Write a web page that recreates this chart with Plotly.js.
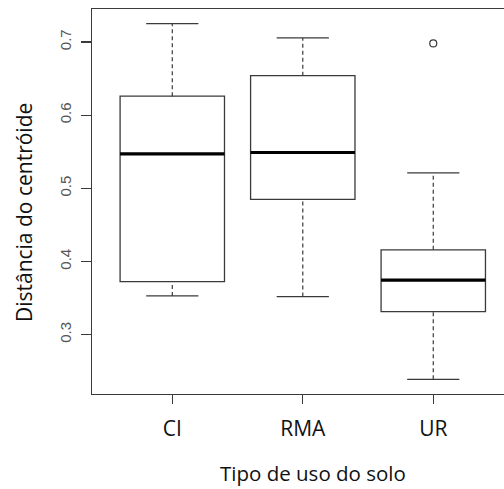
<!DOCTYPE html>
<html>
<head>
<meta charset="utf-8">
<script src="https://cdn.plot.ly/plotly-3.0.1.min.js"></script>
<style>html,body{margin:0;padding:0;background:#fff;}#chart{width:504px;height:489px;}</style>
</head>
<body>
<div id="chart"></div>
<script>
// Data
const categories = ["CI", "RMA", "UR"];
const positions = [1, 2, 3];
const lowerWhisker = [0.353, 0.352, 0.239];
const q1 = [0.3725, 0.485, 0.3315];
const median = [0.547, 0.549, 0.3745];
const q3 = [0.626, 0.654, 0.416];
const upperWhisker = [0.725, 0.7055, 0.521];
const outlierX = [3];
const outlierY = [0.698];
const yTicks = [0.3, 0.4, 0.5, 0.6, 0.7];

const BOX_W = 0.8, STAPLE_W = 0.4;
const lineCol = "#3a3a3a";

// helpers building segment arrays from data
function segs(yArr, halfW) {
  const xs = [], ys = [];
  positions.forEach((p, i) => { xs.push(p - halfW, p + halfW, null); ys.push(yArr[i], yArr[i], null); });
  return {x: xs, y: ys};
}
function whiskers() {
  const xs = [], ys = [];
  positions.forEach((p, i) => {
    xs.push(p, p, null, p, p, null);
    ys.push(q3[i], upperWhisker[i], null, lowerWhisker[i], q1[i], null);
  });
  return {x: xs, y: ys};
}

const boxTrace = {
  type: "box", x: positions, q1: q1, median: median, q3: q3,
  lowerfence: q1, upperfence: q3, width: BOX_W, whiskerwidth: 0,
  boxpoints: false, fillcolor: "#ffffff",
  line: {color: lineCol, width: 1.3}, hoverinfo: "skip", showlegend: false
};
const w = whiskers();
const whiskerTrace = {type: "scatter", mode: "lines", x: w.x, y: w.y,
  line: {color: lineCol, width: 1.2, dash: "4px,3px"}, showlegend: false, hoverinfo: "skip"};
const sU = segs(upperWhisker, STAPLE_W / 2), sL = segs(lowerWhisker, STAPLE_W / 2);
const stapleTrace = {type: "scatter", mode: "lines",
  x: sU.x.concat(sL.x), y: sU.y.concat(sL.y),
  line: {color: lineCol, width: 1.3}, showlegend: false, hoverinfo: "skip"};
const m = segs(median, BOX_W / 2);
const medianTrace = {type: "scatter", mode: "lines", x: m.x, y: m.y,
  line: {color: "#000000", width: 3.2}, showlegend: false, hoverinfo: "skip"};
const outlierTrace = {type: "scatter", mode: "markers", x: outlierX, y: outlierY,
  marker: {symbol: "circle-open", size: 7, color: lineCol, line: {width: 1.2}},
  showlegend: false, hoverinfo: "skip"};

const layout = {
  width: 504, height: 489,
  margin: {l: 92, r: 0, t: 9, b: 95, pad: 0},
  paper_bgcolor: "#ffffff", plot_bgcolor: "#ffffff",
  showlegend: false,
  xaxis: {
    range: [0.3847, 3.542], tickvals: positions, ticktext: categories,
    showgrid: false, zeroline: false, showline: true, mirror: true,
    linecolor: lineCol, linewidth: 1.3, ticks: "outside", ticklen: 9,
    tickcolor: lineCol, tickwidth: 1.3, ticklabelstandoff: 6,
    tickfont: {family: "Open Sans, sans-serif", size: 21, color: "#111"}
  },
  yaxis: {
    range: [0.2189, 0.7451], tickvals: yTicks, ticktext: yTicks.map(v => v.toFixed(1)),
    showgrid: false, zeroline: false, showline: true,
    linecolor: lineCol, linewidth: 1.3, ticks: "outside", ticklen: 10,
    tickcolor: lineCol, tickwidth: 1.3, tickangle: -90, ticklabelstandoff: 4,
    tickfont: {family: "Liberation Sans, Arial, sans-serif", size: 15, color: "#555"}
  },
  annotations: [
    {text: "Tipo de uso do solo", xref: "paper", yref: "paper", x: 0.5364, y: -0.2052,
     xanchor: "center", yanchor: "middle", showarrow: false, borderpad: 0,
     font: {family: "Open Sans, sans-serif", size: 20.5, color: "#111"}},
    {text: "Distância do centróide", xref: "paper", yref: "paper", x: -0.165, y: 0.470,
     xanchor: "center", yanchor: "middle", textangle: -90, showarrow: false,
     font: {family: "Open Sans, sans-serif", size: 21, color: "#111"}}
  ]
};

Plotly.newPlot("chart", [boxTrace, whiskerTrace, stapleTrace, medianTrace, outlierTrace], layout,
  {staticPlot: true, displayModeBar: false});
</script>
</body>
</html>
